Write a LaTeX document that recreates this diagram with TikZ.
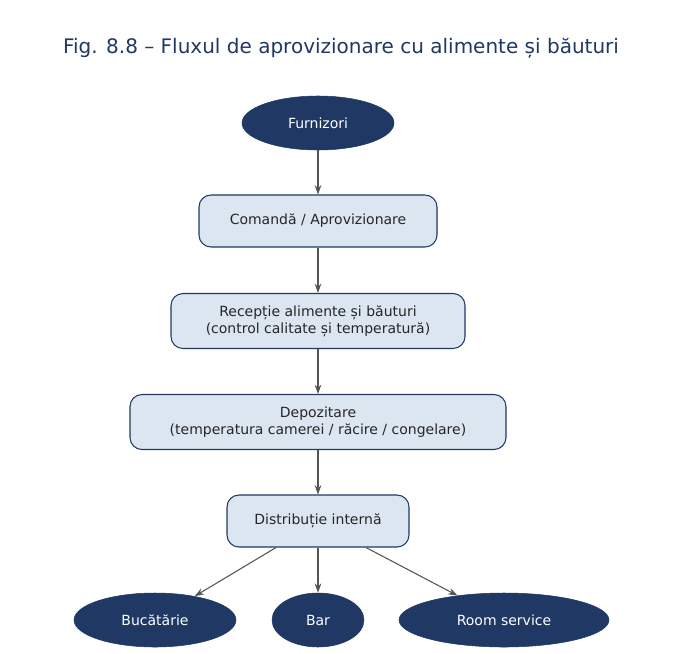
\documentclass[tikz,border=0pt]{standalone}
\usepackage{fontspec}
\setmainfont{DejaVu Sans}
\usetikzlibrary{shapes.geometric,arrows.meta}
\definecolor{navy}{HTML}{1F3864}
\definecolor{boxfill}{HTML}{DCE6F1}
\definecolor{arr}{HTML}{555555}
\begin{document}
\begin{tikzpicture}[x=0.75pt,y=-0.75pt,
  oval/.style={ellipse,fill=navy,draw=navy,text=white,inner sep=0pt,font=\fontsize{10.5}{12}\selectfont},
  box/.style={rectangle,rounded corners=9pt,fill=boxfill,draw=navy,line width=0.8pt,text=black!85,align=center,inner sep=0pt,font=\fontsize{10.5}{12.5}\selectfont},
  conn/.style={draw=arr,line width=0.8pt,-{Stealth[length=7pt,width=5pt]}}]
\useasboundingbox (0,0) rectangle (684,653);
\node[font=\fontsize{15}{18}\selectfont,text=navy] (title) at (341,48) {Fig. 8.8 – Fluxul de aprovizionare cu alimente și băuturi};
\node[oval,minimum width=152*0.75pt,minimum height=54*0.75pt] (f) at (318,123) {Furnizori};
\node[box,minimum width=238*0.75pt,minimum height=52*0.75pt] (c) at (318,221) {Comandă / Aprovizionare};
\node[box,minimum width=294*0.75pt,minimum height=55*0.75pt] (r) at (318,321) {Recepție alimente și băuturi\\(control calitate și temperatură)};
\node[box,minimum width=376*0.75pt,minimum height=55*0.75pt] (d) at (318,422) {Depozitare\\(temperatura camerei / răcire / congelare)};
\node[box,minimum width=182*0.75pt,minimum height=52*0.75pt] (i) at (318,521) {Distribuție internă};
\node[oval,minimum width=162*0.75pt,minimum height=54*0.75pt] (b) at (155,620) {Bucătărie};
\node[oval,minimum width=92*0.75pt,minimum height=54*0.75pt] (bar) at (318,620) {Bar};
\node[oval,minimum width=210*0.75pt,minimum height=54*0.75pt] (rs) at (504,620) {Room service};
\draw[conn] (f) -- (c);
\draw[conn] (c) -- (r);
\draw[conn] (r) -- (d);
\draw[conn] (d) -- (i);
\draw[conn] (i.south) ++(-42,0) coordinate (i1) -- (b);
\draw[conn] (i) -- (bar);
\draw[conn] (i.south) ++(48,0) coordinate (i2) -- (rs);
\end{tikzpicture}
\end{document}
